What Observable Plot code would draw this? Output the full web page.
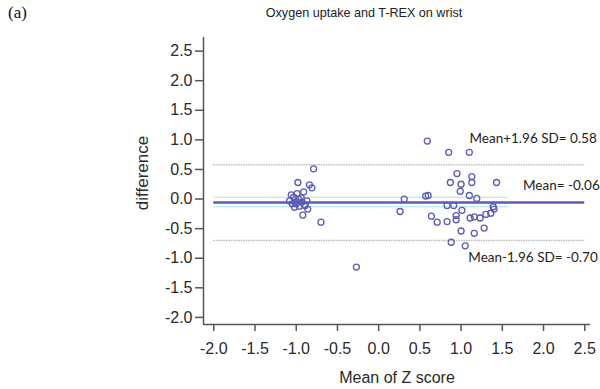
<!DOCTYPE html>
<html>
<head>
<meta charset="utf-8">
<script src="https://cdn.jsdelivr.net/npm/d3@7"></script>
<script src="https://cdn.jsdelivr.net/npm/@observablehq/plot@0.6"></script>
<style>
  html, body { margin: 0; padding: 0; background: #fff; }
  #wrap { position: relative; width: 600px; height: 389px; }
  #head { position: relative; height: 30px; }
  #tag { position: absolute; left: 8px; top: 3px; font-family: "Liberation Serif", "DejaVu Serif", serif; font-size: 17px; color: #111; }
  #title { position: absolute; left: 0; width: 600px; top: 6px; padding-left: 128px; box-sizing: border-box; text-align: center; font-family: "Liberation Sans", Arial, sans-serif; font-size: 12.6px; color: #222; }
</style>
</head>
<body>
<div id="wrap">
  <div id="head"><div id="tag">(a)</div><div id="title">Oxygen uptake and T-REX on wrist</div></div>
  <div id="chart"></div>
</div>
<script>
// Mean of Z score (x) and difference (y) for each subject
const meanZ = [
  -0.79, -0.98, -0.84, -0.81, -0.91, -1.06, -1.03, -1.08, -1.01, -0.97,
  -0.93, -0.89, -0.96, -1.02, -0.87, -0.92, -0.86, -1.05, -0.70, -0.27,
  -0.99, -0.94, -1.00, -0.90,
  0.59, 0.85, 1.10, 0.95, 1.13, 0.87, 1.00, 1.13, 1.43, 0.99,
  1.10, 1.19, 0.31, 0.57, 0.60, 0.83, 0.91, 1.01, 1.39, 1.40,
  0.26, 0.64, 0.71, 0.83, 0.94, 0.94, 1.11, 1.16, 1.23, 1.30,
  1.36, 1.00, 1.16, 1.28, 0.88, 1.05
];
const difference = [
  0.51, 0.28, 0.24, 0.19, 0.12, 0.07, 0.03, -0.03, -0.05, 0.00,
  -0.05, -0.11, -0.12, -0.14, -0.03, -0.27, -0.17, -0.08, -0.39, -1.15,
  0.09, 0.02, -0.08, -0.10,
  0.98, 0.79, 0.79, 0.43, 0.38, 0.28, 0.25, 0.28, 0.28, 0.13,
  0.06, 0.01, 0.00, 0.05, 0.06, -0.11, -0.11, -0.19, -0.13, -0.17,
  -0.21, -0.29, -0.39, -0.38, -0.35, -0.28, -0.32, -0.30, -0.32, -0.26,
  -0.24, -0.54, -0.58, -0.49, -0.73, -0.79
];
const meanDiff = -0.06;
const upperLoA = 0.58;
const lowerLoA = -0.70;
const ciMean = [0.03, -0.13];
const ciEnd = 1.58;
const xTicks = [-2.0, -1.5, -1.0, -0.5, 0.0, 0.5, 1.0, 1.5, 2.0, 2.5];
const yTicks = [-2.0, -1.5, -1.0, -0.5, 0.0, 0.5, 1.0, 1.5, 2.0, 2.5];
const xDomain = [-2.125, 2.57];
const yDomain = [-2.12, 2.73];
const lineStart = -2.0, lineEnd = 2.5;
const labels = [
  {y: upperLoA, text: "Mean+1.96 SD= 0.58"},
  {y: meanDiff, text: "Mean= -0.06"},
  {y: lowerLoA, text: "Mean-1.96 SD= -0.70"}
];

const points = meanZ.map((x, i) => ({x, y: difference[i]}));
const fmt = d => d.toFixed(1);
const axisColor = "#555";
const blue = "#5a5db3";

const chart = Plot.plot({
  width: 600,
  height: 359,
  marginTop: 7,
  marginBottom: 65,
  marginLeft: 203,
  marginRight: 10,
  style: {fontFamily: "'Liberation Sans', Arial, sans-serif", fontSize: "16px", color: "#2a2a2a", background: "#fff"},
  x: {domain: xDomain},
  y: {domain: yDomain},
  marks: [
    Plot.axisX({ticks: xTicks, tickFormat: fmt, tickSize: 7, tickPadding: 11, stroke: axisColor, strokeWidth: 1.5,
      label: null, fontSize: 16}),
    Plot.axisY({ticks: yTicks, tickFormat: fmt, tickSize: 8, tickPadding: 3, stroke: axisColor, strokeWidth: 1.5,
      label: null, fontSize: 16}),
    Plot.axisX({ticks: [], label: "Mean of Z score", labelAnchor: "center", labelArrow: "none", labelOffset: 58, fontSize: 16}),
    Plot.axisY({ticks: [], label: "difference", labelAnchor: "center", labelArrow: "none", labelOffset: 68, fontSize: 17}),
    Plot.ruleX([xDomain[0]], {stroke: axisColor, strokeWidth: 1.5}),
    Plot.ruleY([yDomain[0]], {stroke: axisColor, strokeWidth: 1.5}),
    Plot.ruleY([upperLoA, lowerLoA], {x1: lineStart, x2: lineEnd, stroke: "#bbb", strokeWidth: 1.5, strokeDasharray: "1.5,1"}),
    Plot.ruleY(ciMean, {x1: lineStart, x2: ciEnd, stroke: "#a8e2f2", strokeWidth: 1}),
    Plot.ruleY([meanDiff], {x1: lineStart, x2: lineEnd, stroke: blue, strokeWidth: 2.5}),
    Plot.dot(points, {x: "x", y: "y", r: 3, stroke: blue, strokeWidth: 1.3, fill: "none"}),
    Plot.text(labels, {x: lineEnd, y: "y", text: "text", textAnchor: "end",
      fontFamily: "Lato, 'Open Sans', sans-serif", fontSize: 13.5, fill: "#222"}),
  ]
});
document.getElementById("chart").appendChild(chart);

// offset labels above/below their lines
const texts = chart.querySelectorAll("g[aria-label='text'] text");
const offs = [[12, -26], [15, -17], [13, 17]];
texts.forEach((t, i) => {
  const [dx, dy] = offs[i];
  const tr = t.getAttribute("transform") || "";
  t.setAttribute("transform", tr + ` translate(${dx},${dy})`);
});
// shift the y-axis title slightly upward as in the reference
chart.querySelectorAll("g[aria-label='y-axis label'] text").forEach(t => {
  const tr = t.getAttribute("transform") || "";
  t.setAttribute("transform", `translate(0,-8) ` + tr);
});
</script>
</body>
</html>
